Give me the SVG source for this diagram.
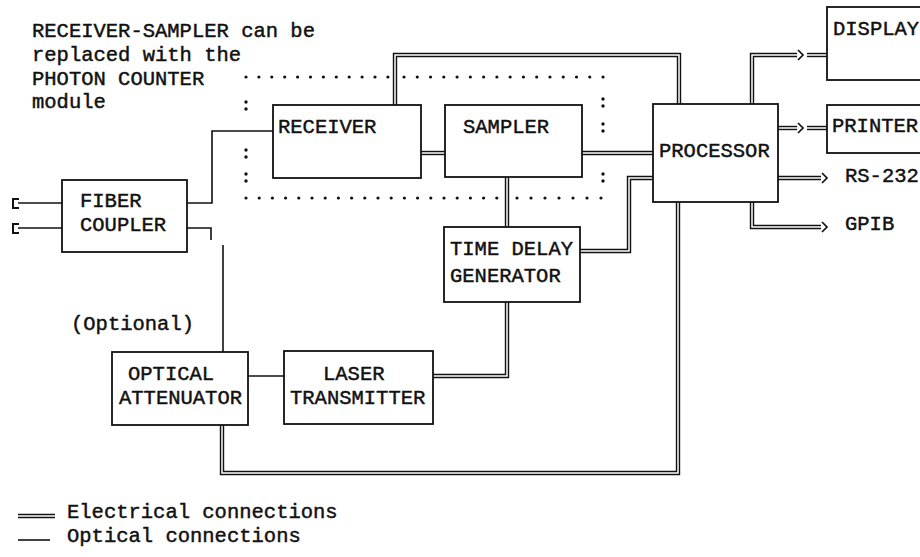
<svg xmlns="http://www.w3.org/2000/svg" xmlns:xlink="http://www.w3.org/1999/xlink" width="920" height="557" viewBox="0 0 920 557">
<style>
text{font-family:"Liberation Mono","Courier New",monospace;font-size:20.5px;fill:#111;stroke:#111;stroke-width:0.45}
.box{fill:#fff;stroke:#111;stroke-width:1.8}
.opt{fill:none;stroke:#111;stroke-width:1.6}
.brk{fill:none;stroke:#111;stroke-width:2}
.elo{fill:none;stroke:#111;stroke-width:4.4}
.eli{fill:none;stroke:#fff;stroke-width:1.5}
.dots{fill:none;stroke:#111;stroke-width:3.2;stroke-linecap:round}
.chev{fill:none;stroke:#111;stroke-width:1.7}
</style>
<defs>
<path id="e1" d="M421,153 H445"/>
<path id="e2" d="M582,153 H653"/>
<path id="e3" d="M395,105 V55 H679 V104"/>
<path id="e4" d="M507,177 V227"/>
<path id="e5" d="M580,251 H629 V178 H653"/>
<path id="e6" d="M433,376 H507 V302"/>
<path id="e7" d="M678,202 V473 H222 V425"/>
<path id="e8" d="M752,104 V55 H797"/>
<path id="e8b" d="M807,55 H827"/>
<path id="e9" d="M778,128 H797"/>
<path id="e9b" d="M807,128 H827"/>
<path id="e10" d="M778,178 H821"/>
<path id="e11" d="M752,202 V227 H821"/>
<path id="eleg" d="M18,516 H55"/>
</defs>

<g id="boundary">
<path class="dots" stroke-dasharray="0 12.9" d="M246,77 H389"/>
<path class="dots" stroke-dasharray="0 13.27" d="M404,77 H604"/>
<path class="dots" stroke-dasharray="0 13.2" d="M246,198 H498"/>
<path class="dots" stroke-dasharray="0 14" d="M517,198 H602"/>
<g fill="#111">
<circle cx="246" cy="102" r="1.7"/><circle cx="246" cy="109" r="1.7"/>
<circle cx="246" cy="150" r="1.7"/><circle cx="246" cy="157" r="1.7"/>
<circle cx="246" cy="174" r="1.7"/><circle cx="246" cy="181" r="1.7"/>
<circle cx="603" cy="99" r="1.7"/><circle cx="603" cy="106" r="1.7"/>
<circle cx="603" cy="124" r="1.7"/><circle cx="603" cy="131" r="1.7"/>
<circle cx="603" cy="174" r="1.7"/><circle cx="603" cy="181" r="1.7"/>
</g>
</g>

<g id="connectors">
<path class="brk" d="M19,199 H13 V208 H19"/>
<path class="brk" d="M19,224 H13 V233 H19"/>
<path class="opt" d="M18,203 H62"/>
<path class="opt" d="M18,228 H62"/>
<path class="opt" d="M187,203 H212 V131 H273"/>
<path class="opt" d="M187,228 H211 V240"/>
<path class="opt" d="M223,245 V352"/>
<path class="opt" d="M248,376 H284"/>
<use xlink:href="#e1" class="elo"/><use xlink:href="#e1" class="eli"/>
<use xlink:href="#e2" class="elo"/><use xlink:href="#e2" class="eli"/>
<use xlink:href="#e3" class="elo"/><use xlink:href="#e3" class="eli"/>
<use xlink:href="#e4" class="elo"/><use xlink:href="#e4" class="eli"/>
<use xlink:href="#e5" class="elo"/><use xlink:href="#e5" class="eli"/>
<use xlink:href="#e6" class="elo"/><use xlink:href="#e6" class="eli"/>
<use xlink:href="#e7" class="elo"/><use xlink:href="#e7" class="eli"/>
<use xlink:href="#e8" class="elo"/><use xlink:href="#e8" class="eli"/>
<use xlink:href="#e8b" class="elo"/><use xlink:href="#e8b" class="eli"/>
<use xlink:href="#e9" class="elo"/><use xlink:href="#e9" class="eli"/>
<use xlink:href="#e9b" class="elo"/><use xlink:href="#e9b" class="eli"/>
<use xlink:href="#e10" class="elo"/><use xlink:href="#e10" class="eli"/>
<use xlink:href="#e11" class="elo"/><use xlink:href="#e11" class="eli"/>
<path class="chev" d="M798,50 L803,55 L798,60"/>
<path class="chev" d="M798,123 L803,128 L798,133"/>
<path class="chev" d="M822,173 L827,178 L822,183"/>
<path class="chev" d="M822,222 L827,227 L822,232"/>
</g>

<g id="note">
<text x="32" y="37">RECEIVER-SAMPLER can be</text>
<text x="32" y="61">replaced with the</text>
<text x="32" y="84.5">PHOTON COUNTER</text>
<text x="32" y="108">module</text>
</g>

<g id="fiber-coupler"><rect class="box" x="62" y="180" width="125" height="72"/><text x="80" y="207">FIBER</text><text x="80" y="231">COUPLER</text></g>
<g id="receiver"><rect class="box" x="273" y="105" width="148" height="73"/><text x="278" y="133">RECEIVER</text></g>
<g id="sampler"><rect class="box" x="445" y="105" width="137" height="72"/><text x="463" y="133">SAMPLER</text></g>
<g id="processor"><rect class="box" x="653" y="104" width="125" height="98"/><text x="659" y="157">PROCESSOR</text></g>
<g id="display"><rect class="box" x="827" y="7" width="110" height="73"/><text x="833" y="35">DISPLAY</text></g>
<g id="printer"><rect class="box" x="827" y="105" width="110" height="48"/><text x="832" y="132">PRINTER</text></g>
<g id="rs232"><text x="845" y="182">RS-232</text></g>
<g id="gpib"><text x="845" y="230">GPIB</text></g>
<g id="time-delay-generator"><rect class="box" x="444" y="227" width="136" height="75"/><text x="450" y="255">TIME DELAY</text><text x="450" y="282">GENERATOR</text></g>
<g id="optional"><text x="71" y="330">(Optional)</text></g>
<g id="optical-attenuator"><rect class="box" x="112" y="352" width="136" height="73"/><text x="128" y="380">OPTICAL</text><text x="119" y="404">ATTENUATOR</text></g>
<g id="laser-transmitter"><rect class="box" x="284" y="351" width="149" height="73"/><text x="323" y="380">LASER</text><text x="290" y="404">TRANSMITTER</text></g>

<g id="legend">
<use xlink:href="#eleg" class="elo"/><use xlink:href="#eleg" class="eli"/>
<path class="opt" d="M18,540 H50"/>
<text x="67" y="518">Electrical connections</text>
<text x="67" y="542">Optical connections</text>
</g>
</svg>
